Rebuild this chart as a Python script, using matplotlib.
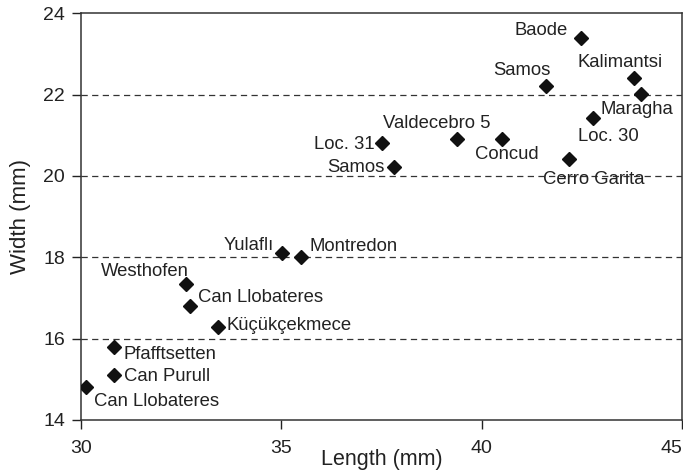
import numpy as np
import matplotlib
matplotlib.use("Agg")
from matplotlib import pyplot as plt

plt.rcParams['font.family'] = ['Liberation Sans', 'DejaVu Sans']

# Data
sites = ["Baode", "Kalimantsi", "", "Samos", "Maragha", "Valdecebro 5", "Concud",
         "Loc. 31", "Samos", "Cerro Garita", "Yulaflı", "Montredon", "Westhofen",
         "Can Llobateres", "Küçükçekmece", "Pfafftsetten", "Can Purull", "Can Llobateres"]
length_mm = [42.48, 43.79, 43.98, 41.59, 42.78, 39.39, 40.50, 37.50, 37.80, 42.17,
             35.01, 35.49, 32.63, 32.71, 33.42, 30.82, 30.82, 30.12]
width_mm = [23.40, 22.42, 22.02, 22.21, 21.42, 20.91, 20.91, 20.80, 20.23, 20.41,
            18.11, 18.01, 17.34, 16.80, 16.29, 15.80, 15.11, 14.82]

# Label placement (pixel offsets from the point, horizontal alignment)
label_offsets = [(-14, 3, 'right'), (-14, 11, 'center'), (0, 0, 'center'),
                 (-24, 11, 'center'), (7, 4, 'left'), (-21, 11, 'center'),
                 (5, -20, 'center'), (-7, -6, 'right'), (-9, -5, 'right'),
                 (25, -25, 'center'), (-8, 3, 'right'), (8, 6, 'left'),
                 (2, 8, 'right'), (8, 4, 'left'), (8, -3, 'left'),
                 (10, -12, 'left'), (10, -6, 'left'), (8, -19, 'left')]
# "Loc. 30" label sits under the Maragha point
extra_label = ("Loc. 30", 42.78, 21.42, (-15, -23))

x_ticks = [30, 35, 40, 45]
y_ticks = [14, 16, 18, 20, 22, 24]
grid_levels = [16, 18, 20, 22]

fig = plt.figure(figsize=(6.83, 4.74), dpi=100)
ax = fig.add_axes([0.1186, 0.114, 0.8805, 0.858])

for lvl in grid_levels:
    ax.axhline(lvl, color='#333333', lw=0.9, ls=(0, (5, 3.5)), zorder=1)

ax.plot(length_mm, width_mm, 'D', color='#111111', markersize=7.6, zorder=3)

for name, x, y, (dx, dy, ha) in zip(sites, length_mm, width_mm, label_offsets):
    if not name:
        continue
    ax.annotate(name, (x, y), xytext=(dx, dy), textcoords='offset pixels',
                ha=ha, va='baseline', fontsize=13.3, color='#222222')
name, x, y, (dx, dy) = extra_label
ax.annotate(name, (x, y), xytext=(dx, dy), textcoords='offset pixels',
            ha='left', va='baseline', fontsize=13.3, color='#222222')

ax.set_xlim(30, 45)
ax.set_ylim(14, 24)
ax.set_xticks(x_ticks)
ax.set_yticks(y_ticks)
ax.tick_params(direction='out', length=6.5, width=1, labelsize=14,
               colors='#222222')
ax.tick_params(axis='x', pad=8)
ax.tick_params(axis='y', pad=5)
ax.get_xticklabels()[-1].set_horizontalalignment('right')
for sp in ax.spines.values():
    sp.set_linewidth(1.1)
    sp.set_color('#333333')

ax.set_xlabel("Length (mm)", fontsize=15.5, color='#222222')
ax.set_ylabel("Width (mm)", fontsize=16, color='#222222')
ax.xaxis.set_label_coords(0.5, -0.072)
ax.yaxis.set_label_coords(-0.083, 0.5)

fig.savefig("out.png", dpi=100)
